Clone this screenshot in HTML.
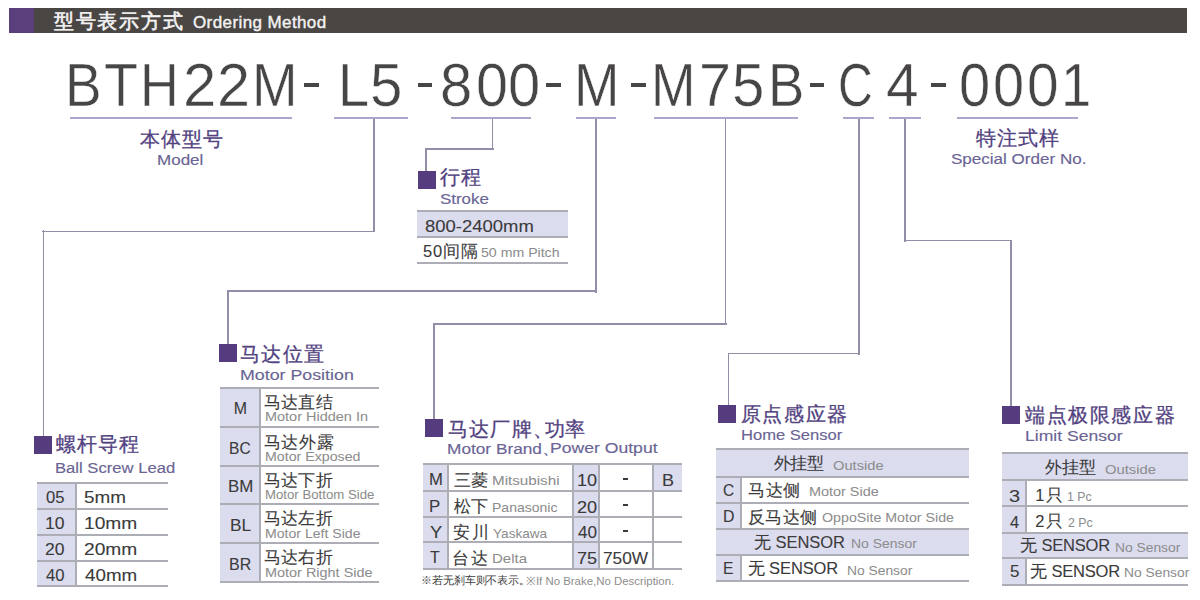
<!DOCTYPE html>
<html><head><meta charset="utf-8"><title>Ordering Method</title>
<style>
html,body{margin:0;padding:0;background:#fff;}
body{width:1200px;height:600px;position:relative;overflow:hidden;font-family:"Liberation Sans",sans-serif;}
.r{position:absolute;}
.t{position:absolute;white-space:pre;line-height:1;transform-origin:0 0;}
</style></head><body>
<div class="r" style="left:9px;top:8px;width:25px;height:25px;background:#5a3f7c"></div>
<div class="r" style="left:34px;top:8px;width:1153px;height:25px;background:#4a4644"></div>
<div class="r" style="left:70px;top:117px;width:222px;height:2px;background:#aaa6cc"></div>
<div class="r" style="left:334px;top:117px;width:74px;height:2px;background:#aaa6cc"></div>
<div class="r" style="left:451px;top:117px;width:79.5px;height:2px;background:#aaa6cc"></div>
<div class="r" style="left:575.5px;top:117px;width:40.5px;height:2px;background:#aaa6cc"></div>
<div class="r" style="left:654px;top:117px;width:144px;height:2px;background:#aaa6cc"></div>
<div class="r" style="left:842.5px;top:117px;width:31.5px;height:2px;background:#aaa6cc"></div>
<div class="r" style="left:889px;top:117px;width:32px;height:2px;background:#aaa6cc"></div>
<div class="r" style="left:957px;top:117px;width:120.5px;height:2px;background:#aaa6cc"></div>
<div class="r" style="left:373.25px;top:119px;width:1.5px;height:113px;background:#928ea9"></div>
<div class="r" style="left:42.3px;top:230.55px;width:332.7px;height:1.5px;background:#928ea9"></div>
<div class="r" style="left:42.55px;top:230.3px;width:1.5px;height:205.7px;background:#928ea9"></div>
<div class="r" style="left:491.75px;top:119px;width:1.5px;height:31px;background:#928ea9"></div>
<div class="r" style="left:425px;top:148.05px;width:68.5px;height:1.5px;background:#928ea9"></div>
<div class="r" style="left:425.25px;top:147.8px;width:1.5px;height:23.2px;background:#928ea9"></div>
<div class="r" style="left:595.45px;top:119px;width:1.5px;height:174px;background:#928ea9"></div>
<div class="r" style="left:227px;top:290.45px;width:370.2px;height:1.5px;background:#928ea9"></div>
<div class="r" style="left:227.45px;top:290.2px;width:1.5px;height:53.8px;background:#928ea9"></div>
<div class="r" style="left:724.75px;top:119px;width:1.5px;height:206px;background:#928ea9"></div>
<div class="r" style="left:433px;top:323.25px;width:293.5px;height:1.5px;background:#928ea9"></div>
<div class="r" style="left:433.25px;top:323px;width:1.5px;height:96px;background:#928ea9"></div>
<div class="r" style="left:858.15px;top:119px;width:1.5px;height:236px;background:#928ea9"></div>
<div class="r" style="left:727.7px;top:352.75px;width:132.2px;height:1.5px;background:#928ea9"></div>
<div class="r" style="left:727.95px;top:352.5px;width:1.5px;height:52.5px;background:#928ea9"></div>
<div class="r" style="left:904.15px;top:119px;width:1.5px;height:123px;background:#928ea9"></div>
<div class="r" style="left:903.9px;top:239.95px;width:108.2px;height:1.5px;background:#928ea9"></div>
<div class="r" style="left:1010.35px;top:239.7px;width:1.5px;height:166.3px;background:#928ea9"></div>
<div class="r" style="left:34px;top:436px;width:18px;height:18px;background:#553c7e"></div>
<div class="r" style="left:418px;top:171px;width:18px;height:18px;background:#553c7e"></div>
<div class="r" style="left:219px;top:344px;width:18px;height:18px;background:#553c7e"></div>
<div class="r" style="left:425px;top:419px;width:18px;height:18px;background:#553c7e"></div>
<div class="r" style="left:717.5px;top:404.7px;width:18.0px;height:18.0px;background:#553c7e"></div>
<div class="r" style="left:1002px;top:405.7px;width:18px;height:18.0px;background:#553c7e"></div>
<div class="r" style="left:36.8px;top:482.75px;width:39.0px;height:26.0px;background:#dcdcef"></div>
<div class="r" style="left:36.8px;top:508.75px;width:39.0px;height:25.85px;background:#dcdcef"></div>
<div class="r" style="left:36.8px;top:534.6px;width:39.0px;height:26.0px;background:#dcdcef"></div>
<div class="r" style="left:36.8px;top:560.6px;width:39.0px;height:25.4px;background:#dcdcef"></div>
<div class="r" style="left:36.8px;top:482px;width:131.2px;height:2px;background:#adadb5"></div>
<div class="r" style="left:36.8px;top:508px;width:131.2px;height:2px;background:#adadb5"></div>
<div class="r" style="left:36.8px;top:534px;width:131.2px;height:2px;background:#adadb5"></div>
<div class="r" style="left:36.8px;top:560px;width:131.2px;height:2px;background:#adadb5"></div>
<div class="r" style="left:36.8px;top:585px;width:131.2px;height:2px;background:#adadb5"></div>
<div class="r" style="left:75px;top:482.75px;width:2px;height:103.25px;background:#adadb5"></div>
<div class="r" style="left:417px;top:211.4px;width:150.5px;height:25.5px;background:#dcdcef"></div>
<div class="r" style="left:417px;top:210px;width:150.5px;height:2px;background:#adadb5"></div>
<div class="r" style="left:417px;top:236px;width:150.5px;height:2px;background:#adadb5"></div>
<div class="r" style="left:417px;top:262px;width:150.5px;height:2px;background:#adadb5"></div>
<div class="r" style="left:220px;top:387.9px;width:39.8px;height:39.6px;background:#dcdcef"></div>
<div class="r" style="left:220px;top:427.5px;width:39.8px;height:38.4px;background:#dcdcef"></div>
<div class="r" style="left:220px;top:465.9px;width:39.8px;height:38.5px;background:#dcdcef"></div>
<div class="r" style="left:220px;top:504.4px;width:39.8px;height:39.0px;background:#dcdcef"></div>
<div class="r" style="left:220px;top:543.4px;width:39.8px;height:39.0px;background:#dcdcef"></div>
<div class="r" style="left:220px;top:387px;width:158.5px;height:2px;background:#adadb5"></div>
<div class="r" style="left:220px;top:426px;width:158.5px;height:2px;background:#adadb5"></div>
<div class="r" style="left:220px;top:465px;width:158.5px;height:2px;background:#adadb5"></div>
<div class="r" style="left:220px;top:503px;width:158.5px;height:2px;background:#adadb5"></div>
<div class="r" style="left:220px;top:542px;width:158.5px;height:2px;background:#adadb5"></div>
<div class="r" style="left:220px;top:581px;width:158.5px;height:2px;background:#adadb5"></div>
<div class="r" style="left:259px;top:387.9px;width:2px;height:194.5px;background:#adadb5"></div>
<div class="r" style="left:423.2px;top:464.3px;width:24.4px;height:26.8px;background:#dcdcef"></div>
<div class="r" style="left:423.2px;top:491.1px;width:24.4px;height:25.7px;background:#dcdcef"></div>
<div class="r" style="left:423.2px;top:516.8px;width:24.4px;height:25.6px;background:#dcdcef"></div>
<div class="r" style="left:423.2px;top:542.4px;width:24.4px;height:26.8px;background:#dcdcef"></div>
<div class="r" style="left:573.5px;top:464.3px;width:26.0px;height:26.8px;background:#dcdcef"></div>
<div class="r" style="left:573.5px;top:491.1px;width:26.0px;height:25.7px;background:#dcdcef"></div>
<div class="r" style="left:573.5px;top:516.8px;width:26.0px;height:25.6px;background:#dcdcef"></div>
<div class="r" style="left:573.5px;top:542.4px;width:26.0px;height:26.8px;background:#dcdcef"></div>
<div class="r" style="left:652.8px;top:464.3px;width:29.0px;height:26.8px;background:#dcdcef"></div>
<div class="r" style="left:423.2px;top:463px;width:258.6px;height:2px;background:#adadb5"></div>
<div class="r" style="left:423.2px;top:490px;width:258.6px;height:2px;background:#adadb5"></div>
<div class="r" style="left:423.2px;top:516px;width:258.6px;height:2px;background:#adadb5"></div>
<div class="r" style="left:423.2px;top:541px;width:258.6px;height:2px;background:#adadb5"></div>
<div class="r" style="left:423.2px;top:568px;width:258.6px;height:2px;background:#adadb5"></div>
<div class="r" style="left:447px;top:464.3px;width:2px;height:104.9px;background:#adadb5"></div>
<div class="r" style="left:572px;top:464.3px;width:2px;height:104.9px;background:#adadb5"></div>
<div class="r" style="left:598px;top:464.3px;width:2px;height:104.9px;background:#adadb5"></div>
<div class="r" style="left:652px;top:464.3px;width:2px;height:104.9px;background:#adadb5"></div>
<div class="r" style="left:716.25px;top:449.5px;width:252.5px;height:27.5px;background:#dcdcef"></div>
<div class="r" style="left:716.25px;top:528.75px;width:252.5px;height:26.75px;background:#dcdcef"></div>
<div class="r" style="left:716.25px;top:477px;width:25.0px;height:26px;background:#dcdcef"></div>
<div class="r" style="left:716.25px;top:503px;width:25.0px;height:25.75px;background:#dcdcef"></div>
<div class="r" style="left:716.25px;top:555.5px;width:25.0px;height:25.75px;background:#dcdcef"></div>
<div class="r" style="left:716.25px;top:448px;width:252.5px;height:2px;background:#adadb5"></div>
<div class="r" style="left:716.25px;top:476px;width:252.5px;height:2px;background:#adadb5"></div>
<div class="r" style="left:716.25px;top:502px;width:252.5px;height:2px;background:#adadb5"></div>
<div class="r" style="left:716.25px;top:528px;width:252.5px;height:2px;background:#adadb5"></div>
<div class="r" style="left:716.25px;top:554px;width:252.5px;height:2px;background:#adadb5"></div>
<div class="r" style="left:716.25px;top:580px;width:252.5px;height:2px;background:#adadb5"></div>
<div class="r" style="left:740px;top:477px;width:2px;height:51.75px;background:#adadb5"></div>
<div class="r" style="left:740px;top:555.5px;width:2px;height:25.75px;background:#adadb5"></div>
<div class="r" style="left:1001.75px;top:453.25px;width:186.25px;height:26.75px;background:#dcdcef"></div>
<div class="r" style="left:1001.75px;top:532.5px;width:186.25px;height:25.5px;background:#dcdcef"></div>
<div class="r" style="left:1001.75px;top:480px;width:24.5px;height:26.25px;background:#dcdcef"></div>
<div class="r" style="left:1001.75px;top:506.25px;width:24.5px;height:26.25px;background:#dcdcef"></div>
<div class="r" style="left:1001.75px;top:558px;width:24.5px;height:26.5px;background:#dcdcef"></div>
<div class="r" style="left:1001.75px;top:452px;width:186.25px;height:2px;background:#adadb5"></div>
<div class="r" style="left:1001.75px;top:479px;width:186.25px;height:2px;background:#adadb5"></div>
<div class="r" style="left:1001.75px;top:505px;width:186.25px;height:2px;background:#adadb5"></div>
<div class="r" style="left:1001.75px;top:532px;width:186.25px;height:2px;background:#adadb5"></div>
<div class="r" style="left:1001.75px;top:557px;width:186.25px;height:2px;background:#adadb5"></div>
<div class="r" style="left:1001.75px;top:584px;width:186.25px;height:2px;background:#adadb5"></div>
<div class="r" style="left:1025px;top:480px;width:2px;height:52.5px;background:#adadb5"></div>
<div class="r" style="left:1025px;top:558px;width:2px;height:26.5px;background:#adadb5"></div>
<div class="t" style="left:53.75px;top:12.25px;font-size:19.5px;color:#f3f3f3;letter-spacing:1.75px;-webkit-text-stroke:0.6px #f3f3f3">型号表示方式</div>
<div class="t" style="left:193.0px;top:14.0px;font-size:17px;color:#f3f3f3;letter-spacing:0.4px;-webkit-text-stroke:0.4px #f3f3f3">Ordering Method</div>
<div class="t" style="left:65.0px;top:54.75px;font-size:60.65px;color:#474545;-webkit-text-stroke:0.5px #fff;transform:scaleX(0.9062)">B</div>
<div class="t" style="left:103.75px;top:54.75px;font-size:60.65px;color:#474545;-webkit-text-stroke:0.5px #fff;transform:scaleX(0.9167)">T</div>
<div class="t" style="left:140.0px;top:54.75px;font-size:60.65px;color:#474545;-webkit-text-stroke:0.5px #fff;transform:scaleX(0.8824)">H</div>
<div class="t" style="left:182.6px;top:54.75px;font-size:60.65px;color:#474545;-webkit-text-stroke:0.5px #fff;transform:scaleX(0.987)">2</div>
<div class="t" style="left:216.75px;top:54.75px;font-size:60.65px;color:#474545;-webkit-text-stroke:0.5px #fff;transform:scaleX(0.9815)">2</div>
<div class="t" style="left:251.9px;top:54.75px;font-size:60.65px;color:#474545;-webkit-text-stroke:0.5px #fff;transform:scaleX(0.9025)">M</div>
<div class="t" style="left:337.5px;top:54.75px;font-size:60.65px;color:#474545;-webkit-text-stroke:0.5px #fff;transform:scaleX(0.9231)">L</div>
<div class="t" style="left:369.5px;top:54.75px;font-size:60.65px;color:#474545;-webkit-text-stroke:0.5px #fff;transform:scaleX(0.9607)">5</div>
<div class="t" style="left:440.0px;top:54.75px;font-size:60.65px;color:#474545;-webkit-text-stroke:0.5px #fff;transform:scaleX(0.9554)">8</div>
<div class="t" style="left:475.5px;top:54.75px;font-size:60.65px;color:#474545;-webkit-text-stroke:0.5px #fff;transform:scaleX(0.9464)">0</div>
<div class="t" style="left:508.25px;top:54.75px;font-size:60.65px;color:#474545;-webkit-text-stroke:0.5px #fff;transform:scaleX(0.9554)">0</div>
<div class="t" style="left:573.75px;top:54.75px;font-size:60.65px;color:#474545;-webkit-text-stroke:0.5px #fff;transform:scaleX(0.9)">M</div>
<div class="t" style="left:651.0px;top:54.75px;font-size:60.65px;color:#474545;-webkit-text-stroke:0.5px #fff;transform:scaleX(0.8812)">M</div>
<div class="t" style="left:698.9px;top:54.75px;font-size:60.65px;color:#474545;-webkit-text-stroke:0.5px #fff;transform:scaleX(0.9481)">7</div>
<div class="t" style="left:732.0px;top:54.75px;font-size:60.65px;color:#474545;-webkit-text-stroke:0.5px #fff;transform:scaleX(0.9607)">5</div>
<div class="t" style="left:767.5px;top:54.75px;font-size:60.65px;color:#474545;-webkit-text-stroke:0.5px #fff;transform:scaleX(0.8984)">B</div>
<div class="t" style="left:838.0px;top:54.75px;font-size:60.65px;color:#474545;-webkit-text-stroke:0.5px #fff;transform:scaleX(0.7961)">C</div>
<div class="t" style="left:885.5px;top:54.75px;font-size:60.65px;color:#474545;-webkit-text-stroke:0.5px #fff;transform:scaleX(0.9667)">4</div>
<div class="t" style="left:958.6px;top:54.75px;font-size:60.65px;color:#474545;-webkit-text-stroke:0.5px #fff;transform:scaleX(0.925)">0</div>
<div class="t" style="left:992.75px;top:54.75px;font-size:60.65px;color:#474545;-webkit-text-stroke:0.5px #fff;transform:scaleX(0.9232)">0</div>
<div class="t" style="left:1026.5px;top:54.75px;font-size:60.65px;color:#474545;-webkit-text-stroke:0.5px #fff;transform:scaleX(0.9375)">0</div>
<div class="t" style="left:1060.75px;top:54.75px;font-size:60.65px;color:#474545;-webkit-text-stroke:0.5px #fff;transform:scaleX(0.8942)">1</div>
<div class="t" style="left:139.5px;top:129.75px;font-size:19.5px;color:#52427f;letter-spacing:1.0px;-webkit-text-stroke:0.3px #52427f">本体型号</div>
<div class="t" style="left:157.0px;top:152.0px;font-size:15.5px;color:#6a6494;-webkit-text-stroke:0.15px #6a6494;transform:scaleX(1.0976)">Model</div>
<div class="t" style="left:975.7px;top:129.35px;font-size:19.5px;color:#52427f;letter-spacing:1.2px;-webkit-text-stroke:0.3px #52427f">特注式样</div>
<div class="t" style="left:950.7px;top:151.0px;font-size:15.5px;color:#6a6494;-webkit-text-stroke:0.15px #6a6494;transform:scaleX(1.0992)">Special Order No.</div>
<div class="t" style="left:440.0px;top:167.5px;font-size:19.5px;color:#52427f;letter-spacing:0.6px;-webkit-text-stroke:0.3px #52427f">行程</div>
<div class="t" style="left:440.0px;top:190.5px;font-size:15.5px;color:#6a6494;-webkit-text-stroke:0.15px #6a6494;transform:scaleX(1.0909)">Stroke</div>
<div class="t" style="left:240.0px;top:344.7px;font-size:19.5px;color:#52427f;letter-spacing:1.33px;-webkit-text-stroke:0.3px #52427f">马达位置</div>
<div class="t" style="left:240.0px;top:367.0px;font-size:15.5px;color:#6a6494;-webkit-text-stroke:0.15px #6a6494;transform:scaleX(1.1485)">Motor Position</div>
<div class="t" style="left:447.7px;top:419.65px;font-size:19.5px;color:#52427f;letter-spacing:1.4px;-webkit-text-stroke:0.3px #52427f">马达厂牌、</div>
<div class="t" style="left:545.3px;top:419.65px;font-size:19.5px;color:#52427f;-webkit-text-stroke:0.3px #52427f">功率</div>
<div class="t" style="left:446.6px;top:441.0px;font-size:15.5px;color:#6a6494;-webkit-text-stroke:0.15px #6a6494;transform:scaleX(1.1135)">Motor Brand、</div>
<div class="t" style="left:550.3px;top:440.0px;font-size:15.5px;color:#6a6494;-webkit-text-stroke:0.15px #6a6494;transform:scaleX(1.1351)">Power Output</div>
<div class="t" style="left:740.5px;top:404.65px;font-size:19.5px;color:#52427f;letter-spacing:1.68px;-webkit-text-stroke:0.3px #52427f">原点感应器</div>
<div class="t" style="left:741.0px;top:426.8px;font-size:15.5px;color:#6a6494;-webkit-text-stroke:0.15px #6a6494;transform:scaleX(1.0691)">Home Sensor</div>
<div class="t" style="left:1025.0px;top:405.5px;font-size:19.5px;color:#52427f;letter-spacing:1.62px;-webkit-text-stroke:0.3px #52427f">端点极限感应器</div>
<div class="t" style="left:1025.0px;top:428.25px;font-size:15.5px;color:#6a6494;-webkit-text-stroke:0.15px #6a6494;transform:scaleX(1.1329)">Limit Sensor</div>
<div class="t" style="left:55.7px;top:435.0px;font-size:19.5px;color:#52427f;letter-spacing:1.1px;-webkit-text-stroke:0.3px #52427f">螺杆导程</div>
<div class="t" style="left:54.7px;top:460.0px;font-size:15.5px;color:#6a6494;-webkit-text-stroke:0.15px #6a6494;transform:scaleX(1.0727)">Ball Screw Lead</div>
<div class="t" style="left:424.6px;top:217.9px;font-size:17.39px;color:#3b3b3b;-webkit-text-stroke:0.1px #3b3b3b;transform:scaleX(1.0634)">800-2400mm</div>
<div class="t" style="left:423.0px;top:242.7px;font-size:16.5px;color:#3b3b3b;letter-spacing:0.87px;-webkit-text-stroke:0.1px #3b3b3b">50间隔</div>
<div class="t" style="left:480.5px;top:245.5px;font-size:13px;color:#8d8d8d;-webkit-text-stroke:0.05px #8d8d8d;transform:scaleX(1.0873)">50 mm Pitch</div>
<div class="t" style="left:45.8px;top:488.75px;font-size:17.39px;color:#3b3b3b;-webkit-text-stroke:0.1px #3b3b3b;transform:scaleX(0.9579)">05</div>
<div class="t" style="left:83.8px;top:488.75px;font-size:17.39px;color:#3b3b3b;-webkit-text-stroke:0.1px #3b3b3b;transform:scaleX(1.0865)">5mm</div>
<div class="t" style="left:44.8px;top:514.75px;font-size:17.39px;color:#3b3b3b;-webkit-text-stroke:0.1px #3b3b3b;transform:scaleX(1.0111)">10</div>
<div class="t" style="left:83.8px;top:514.75px;font-size:17.39px;color:#3b3b3b;-webkit-text-stroke:0.1px #3b3b3b;transform:scaleX(1.1043)">10mm</div>
<div class="t" style="left:44.8px;top:540.6px;font-size:17.39px;color:#3b3b3b;-webkit-text-stroke:0.1px #3b3b3b;transform:scaleX(1.0111)">20</div>
<div class="t" style="left:83.8px;top:540.6px;font-size:17.39px;color:#3b3b3b;-webkit-text-stroke:0.1px #3b3b3b;transform:scaleX(1.1043)">20mm</div>
<div class="t" style="left:45.8px;top:566.6px;font-size:17.39px;color:#3b3b3b;-webkit-text-stroke:0.1px #3b3b3b;transform:scaleX(0.9579)">40</div>
<div class="t" style="left:84.8px;top:566.6px;font-size:17.39px;color:#3b3b3b;-webkit-text-stroke:0.1px #3b3b3b;transform:scaleX(1.0809)">40mm</div>
<div class="t" style="left:233.8px;top:401.4px;font-size:15.94px;color:#3b3b3b;-webkit-text-stroke:0.1px #3b3b3b">M</div>
<div class="t" style="left:263.7px;top:394.15px;font-size:16.5px;color:#3b3b3b;letter-spacing:0.33px;-webkit-text-stroke:0.1px #3b3b3b">马达直结</div>
<div class="t" style="left:264.5px;top:410.3px;font-size:13px;color:#8d8d8d;-webkit-text-stroke:0.05px #8d8d8d;transform:scaleX(1.1132)">Motor Hidden In</div>
<div class="t" style="left:228.7px;top:441.0px;font-size:15.94px;color:#3b3b3b;-webkit-text-stroke:0.1px #3b3b3b;transform:scaleX(0.9762)">BC</div>
<div class="t" style="left:263.7px;top:433.75px;font-size:16.5px;color:#3b3b3b;letter-spacing:0.67px;-webkit-text-stroke:0.1px #3b3b3b">马达外露</div>
<div class="t" style="left:264.5px;top:449.9px;font-size:13px;color:#8d8d8d;-webkit-text-stroke:0.05px #8d8d8d;transform:scaleX(1.0919)">Motor Exposed</div>
<div class="t" style="left:228.0px;top:479.4px;font-size:15.94px;color:#3b3b3b;-webkit-text-stroke:0.1px #3b3b3b;transform:scaleX(1.0591)">BM</div>
<div class="t" style="left:263.7px;top:471.65px;font-size:16.5px;color:#3b3b3b;letter-spacing:0.33px;-webkit-text-stroke:0.1px #3b3b3b">马达下折</div>
<div class="t" style="left:264.5px;top:488.3px;font-size:13px;color:#8d8d8d;-webkit-text-stroke:0.05px #8d8d8d;transform:scaleX(1.016)">Motor Bottom Side</div>
<div class="t" style="left:229.6px;top:517.9px;font-size:15.94px;color:#3b3b3b;-webkit-text-stroke:0.1px #3b3b3b;transform:scaleX(1.0833)">BL</div>
<div class="t" style="left:263.7px;top:510.15px;font-size:16.5px;color:#3b3b3b;letter-spacing:0.33px;-webkit-text-stroke:0.1px #3b3b3b">马达左折</div>
<div class="t" style="left:264.5px;top:526.8px;font-size:13px;color:#8d8d8d;-webkit-text-stroke:0.05px #8d8d8d;transform:scaleX(1.0828)">Motor Left Side</div>
<div class="t" style="left:228.7px;top:556.9px;font-size:15.94px;color:#3b3b3b;-webkit-text-stroke:0.1px #3b3b3b;transform:scaleX(1.0024)">BR</div>
<div class="t" style="left:263.7px;top:549.15px;font-size:16.5px;color:#3b3b3b;letter-spacing:0.33px;-webkit-text-stroke:0.1px #3b3b3b">马达右折</div>
<div class="t" style="left:264.5px;top:565.8px;font-size:13px;color:#8d8d8d;-webkit-text-stroke:0.05px #8d8d8d;transform:scaleX(1.1105)">Motor Right Side</div>
<div class="t" style="left:428.5px;top:472.0px;font-size:15.94px;color:#3b3b3b;-webkit-text-stroke:0.1px #3b3b3b;transform:scaleX(1.0455)">M</div>
<div class="t" style="left:454.0px;top:471.5px;font-size:16.5px;color:#3b3b3b;letter-spacing:0.3px;-webkit-text-stroke:0.1px #3b3b3b">三菱</div>
<div class="t" style="left:492.0px;top:474.0px;font-size:13px;color:#8d8d8d;-webkit-text-stroke:0.05px #8d8d8d;transform:scaleX(1.1679)">Mitsubishi</div>
<div class="t" style="left:577.0px;top:471.7px;font-size:16.23px;color:#3b3b3b;-webkit-text-stroke:0.1px #3b3b3b;transform:scaleX(1.1176)">10</div>
<div class="t" style="left:429.0px;top:498.8px;font-size:15.94px;color:#3b3b3b;-webkit-text-stroke:0.1px #3b3b3b;transform:scaleX(1.0556)">P</div>
<div class="t" style="left:454.0px;top:498.3px;font-size:16.5px;color:#3b3b3b;letter-spacing:0.3px;-webkit-text-stroke:0.1px #3b3b3b">松下</div>
<div class="t" style="left:492.0px;top:500.8px;font-size:13px;color:#8d8d8d;-webkit-text-stroke:0.05px #8d8d8d;transform:scaleX(1.0783)">Panasonic</div>
<div class="t" style="left:577.0px;top:498.5px;font-size:16.23px;color:#3b3b3b;-webkit-text-stroke:0.1px #3b3b3b;transform:scaleX(1.1176)">20</div>
<div class="t" style="left:429.5px;top:524.5px;font-size:15.94px;color:#3b3b3b;-webkit-text-stroke:0.1px #3b3b3b;transform:scaleX(1.15)">Y</div>
<div class="t" style="left:453.0px;top:524.0px;font-size:16.5px;color:#3b3b3b;letter-spacing:2.3px;-webkit-text-stroke:0.1px #3b3b3b">安川</div>
<div class="t" style="left:493.0px;top:526.5px;font-size:13px;color:#8d8d8d;-webkit-text-stroke:0.05px #8d8d8d;transform:scaleX(1.0462)">Yaskawa</div>
<div class="t" style="left:578.0px;top:524.2px;font-size:16.23px;color:#3b3b3b;-webkit-text-stroke:0.1px #3b3b3b;transform:scaleX(1.0556)">40</div>
<div class="t" style="left:430.0px;top:550.1px;font-size:15.94px;color:#3b3b3b;-webkit-text-stroke:0.1px #3b3b3b">T</div>
<div class="t" style="left:452.0px;top:549.6px;font-size:16.5px;color:#3b3b3b;letter-spacing:2.3px;-webkit-text-stroke:0.1px #3b3b3b">台达</div>
<div class="t" style="left:492.0px;top:552.1px;font-size:13px;color:#8d8d8d;-webkit-text-stroke:0.05px #8d8d8d;transform:scaleX(1.1517)">Delta</div>
<div class="t" style="left:577.0px;top:549.8px;font-size:16.23px;color:#3b3b3b;-webkit-text-stroke:0.1px #3b3b3b;transform:scaleX(1.1176)">75</div>
<div class="r" style="left:623px;top:478px;width:5px;height:2px;background:#3b3b3b"></div>
<div class="r" style="left:623px;top:504px;width:5px;height:2px;background:#3b3b3b"></div>
<div class="r" style="left:623px;top:530px;width:5px;height:2px;background:#3b3b3b"></div>
<div class="t" style="left:662.0px;top:471.7px;font-size:16.23px;color:#3b3b3b;-webkit-text-stroke:0.1px #3b3b3b;transform:scaleX(1.1111)">B</div>
<div class="t" style="left:602.9px;top:549.8px;font-size:16.23px;color:#3b3b3b;-webkit-text-stroke:0.1px #3b3b3b;transform:scaleX(1.0634)">750W</div>
<div class="t" style="left:421.4px;top:575.3px;font-size:10.5px;color:#3b3b3b;letter-spacing:-0.16px">※若无刹车则不表示。</div>
<div class="t" style="left:526.4px;top:576.0px;font-size:11.5px;color:#8d8d8d;transform:scaleX(0.9926)">※If No Brake,No Description.</div>
<div class="t" style="left:773.75px;top:454.9px;font-size:16.5px;color:#3b3b3b;letter-spacing:-0.5px;-webkit-text-stroke:0.1px #3b3b3b">外挂型</div>
<div class="t" style="left:833.0px;top:458.8px;font-size:13px;color:#8d8d8d;-webkit-text-stroke:0.05px #8d8d8d;transform:scaleX(1.1307)">Outside</div>
<div class="t" style="left:722.75px;top:481.75px;font-size:17.03px;color:#3b3b3b;-webkit-text-stroke:0.1px #3b3b3b;transform:scaleX(0.9091)">C</div>
<div class="t" style="left:747.75px;top:481.75px;font-size:16.5px;color:#3b3b3b;letter-spacing:0.75px;-webkit-text-stroke:0.1px #3b3b3b">马达侧</div>
<div class="t" style="left:809.0px;top:485.0px;font-size:13px;color:#8d8d8d;-webkit-text-stroke:0.05px #8d8d8d;transform:scaleX(1.1089)">Motor Side</div>
<div class="t" style="left:722.75px;top:507.75px;font-size:17.03px;color:#3b3b3b;-webkit-text-stroke:0.1px #3b3b3b;transform:scaleX(0.9318)">D</div>
<div class="t" style="left:747.75px;top:509.25px;font-size:16.5px;color:#3b3b3b;letter-spacing:0.5px;-webkit-text-stroke:0.1px #3b3b3b">反马达侧</div>
<div class="t" style="left:822.25px;top:511.0px;font-size:13px;color:#8d8d8d;-webkit-text-stroke:0.05px #8d8d8d;transform:scaleX(1.0938)">OppoSite Motor Side</div>
<div class="t" style="left:754.0px;top:533.88px;font-size:16.5px;color:#3b3b3b;letter-spacing:-0.04px;-webkit-text-stroke:0.1px #3b3b3b">无 SENSOR</div>
<div class="t" style="left:851.0px;top:537.25px;font-size:13px;color:#8d8d8d;-webkit-text-stroke:0.05px #8d8d8d;transform:scaleX(1.0708)">No Sensor</div>
<div class="t" style="left:722.75px;top:560.25px;font-size:17.03px;color:#3b3b3b;-webkit-text-stroke:0.1px #3b3b3b;transform:scaleX(0.925)">E</div>
<div class="t" style="left:747.75px;top:559.88px;font-size:16.5px;color:#3b3b3b;letter-spacing:-0.11px;-webkit-text-stroke:0.1px #3b3b3b">无 SENSOR</div>
<div class="t" style="left:846.5px;top:564.0px;font-size:13px;color:#8d8d8d;-webkit-text-stroke:0.05px #8d8d8d;transform:scaleX(1.0625)">No Sensor</div>
<div class="t" style="left:1045.0px;top:458.75px;font-size:16.5px;color:#3b3b3b;-webkit-text-stroke:0.1px #3b3b3b">外挂型</div>
<div class="t" style="left:1105.0px;top:462.5px;font-size:13px;color:#8d8d8d;-webkit-text-stroke:0.05px #8d8d8d;transform:scaleX(1.1364)">Outside</div>
<div class="t" style="left:1009.0px;top:488.5px;font-size:15.94px;color:#3b3b3b;-webkit-text-stroke:0.1px #3b3b3b;transform:scaleX(1.25)">3</div>
<div class="t" style="left:1035.25px;top:487.0px;font-size:16.5px;color:#3b3b3b;letter-spacing:1.75px;-webkit-text-stroke:0.1px #3b3b3b">1只</div>
<div class="t" style="left:1066.5px;top:490.0px;font-size:13px;color:#8d8d8d;-webkit-text-stroke:0.05px #8d8d8d;transform:scaleX(0.95)">1 Pc</div>
<div class="t" style="left:1009.5px;top:514.75px;font-size:15.94px;color:#3b3b3b;-webkit-text-stroke:0.1px #3b3b3b;transform:scaleX(1.0278)">4</div>
<div class="t" style="left:1035.25px;top:513.25px;font-size:16.5px;color:#3b3b3b;letter-spacing:1.75px;-webkit-text-stroke:0.1px #3b3b3b">2只</div>
<div class="t" style="left:1067.5px;top:516.25px;font-size:13px;color:#8d8d8d;-webkit-text-stroke:0.05px #8d8d8d;transform:scaleX(0.95)">2 Pc</div>
<div class="t" style="left:1020.25px;top:536.88px;font-size:16.5px;color:#3b3b3b;letter-spacing:-0.21px;-webkit-text-stroke:0.1px #3b3b3b">无 SENSOR</div>
<div class="t" style="left:1115.25px;top:540.5px;font-size:13px;color:#8d8d8d;-webkit-text-stroke:0.05px #8d8d8d;transform:scaleX(1.0625)">No Sensor</div>
<div class="t" style="left:1009.5px;top:564.0px;font-size:15.94px;color:#3b3b3b;-webkit-text-stroke:0.1px #3b3b3b;transform:scaleX(1.0625)">5</div>
<div class="t" style="left:1030.25px;top:562.5px;font-size:16.5px;color:#3b3b3b;letter-spacing:-0.21px;-webkit-text-stroke:0.1px #3b3b3b">无 SENSOR</div>
<div class="t" style="left:1124.0px;top:566.0px;font-size:13px;color:#8d8d8d;-webkit-text-stroke:0.05px #8d8d8d;transform:scaleX(1.0625)">No Sensor</div>
<div class="r" style="left:304.4px;top:82.75px;width:14.6px;height:4.1px;background:#474545"></div>
<div class="r" style="left:417.5px;top:82.75px;width:14.75px;height:4.1px;background:#474545"></div>
<div class="r" style="left:546.25px;top:82.75px;width:15.0px;height:4.1px;background:#474545"></div>
<div class="r" style="left:631px;top:82.75px;width:15px;height:4.1px;background:#474545"></div>
<div class="r" style="left:810px;top:82.75px;width:14.4px;height:4.1px;background:#474545"></div>
<div class="r" style="left:931.25px;top:82.75px;width:14.35px;height:4.1px;background:#474545"></div>
</body></html>
